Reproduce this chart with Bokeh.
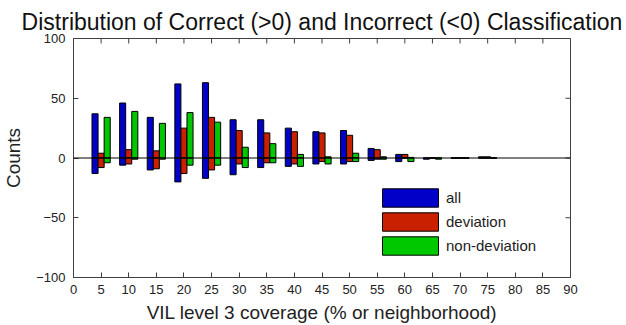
import math
from bokeh.plotting import figure
from bokeh.models import Range1d, Span, Legend, LegendItem, FixedTicker, ColumnDataSource
from bokeh.embed import file_html
from bokeh.resources import INLINE

# ---- data ----
coverage = [5, 10, 15, 20, 25, 30, 35, 40, 45, 50, 55, 60, 65, 70, 75]
all_pos = [37, 46, 34, 62, 63, 32, 32, 25, 22, 23, 8, 3, 0, 0, 1]
all_neg = [-13, -6, -10, -20, -17, -14, -8, -7, -5, -5, -2, -3, -1, 0, 0]
dev_pos = [4, 7, 6, 25, 34, 23, 21, 22, 21, 19, 7, 3, 0, 0, 1]
dev_neg = [-8, -5, -9, -13, -10, -5, -4, -5, -3, -3, -1, 0, 0, 0, 0]
non_pos = [34, 39, 29, 38, 30, 9, 12, 3, 1, 4, 1, 0.5, 0, 0, 0]
non_neg = [-4, -1, -1, -6, -6, -8, -4, -7, -5, -3, -1, -3, -1, 0, 0]
series_names = ["all", "deviation", "non-deviation"]
colors = ["#0000c8", "#c82000", "#00c800"]
x_ticks = list(range(0, 91, 5))
y_ticks = [-100, -50, 0, 50, 100]
x_min, x_max = 0, 90
y_min, y_max = -100, 100

FONT = "Liberation Sans"
AX = "#404040"
TXT = "#222222"

p = figure(width=626, height=325, output_backend="svg", toolbar_location=None,
           x_range=Range1d(x_min, x_max), y_range=Range1d(y_min, y_max),
           min_border_left=73, min_border_right=56, min_border_top=38, min_border_bottom=48)
p.title.text = "Distribution of Correct (>0) and Incorrect (<0) Classification"
p.title.text_font = FONT
p.title.text_font_size = "23px"
p.title.text_font_style = "normal"
p.title.text_color = "#111111"
p.title.align = "center"
p.title.offset = 0
p.title.standoff = 7
p.grid.visible = False
p.outline_line_color = AX
p.background_fill_color = "white"

bw = 1.1
offsets = [-1.1, 0.0, 1.1]
pos_lists = [all_pos, dev_pos, non_pos]
neg_lists = [all_neg, dev_neg, non_neg]
items = []
for name, col, off, pv, nv in zip(series_names, colors, offsets, pos_lists, neg_lists):
    xs = [c + off for c in coverage]
    src = ColumnDataSource(dict(x=xs, pos=pv, neg=nv))
    r1 = p.vbar(x="x", width=bw, bottom=0, top="pos", source=src,
                fill_color=col, line_color="black", line_width=1)
    p.vbar(x="x", width=bw, bottom="neg", top=0, source=src,
           fill_color=col, line_color="black", line_width=1)
    items.append(LegendItem(label=name, renderers=[r1]))

p.add_layout(Span(location=0, dimension="width", line_color="black", line_width=1))

# inward ticks on the top and right edges of the box (MATLAB style)
p.ray(x=x_ticks, y=[y_max] * len(x_ticks), length=5, length_units="screen",
      angle=-math.pi / 2, line_color=AX, line_width=1)
p.ray(x=[x_max] * len(y_ticks), y=y_ticks, length=5, length_units="screen",
      angle=math.pi, line_color=AX, line_width=1)

for ax in (p.xaxis[0], p.yaxis[0]):
    ax.axis_line_color = AX
    ax.major_tick_line_color = AX
    ax.major_tick_in = 5
    ax.major_tick_out = 0
    ax.minor_tick_line_color = None
    ax.major_label_text_font = FONT
    ax.major_label_text_font_size = "13px"
    ax.major_label_text_color = TXT
    ax.axis_label_text_font = FONT
    ax.axis_label_text_font_size = "19px"
    ax.axis_label_text_font_style = "normal"
    ax.axis_label_text_color = TXT

p.xaxis.ticker = FixedTicker(ticks=x_ticks)
p.yaxis.ticker = FixedTicker(ticks=y_ticks)
p.xaxis.axis_label = "VIL level 3 coverage (% or neighborhood)"
p.yaxis.axis_label = "Counts"
p.xaxis.major_label_standoff = 7
p.xaxis.axis_label_standoff = 5
p.yaxis.major_label_standoff = 8
p.yaxis.axis_label_standoff = 9

legend = Legend(items=items, location=(302, 20), orientation="vertical",
                glyph_width=70, glyph_height=23, label_standoff=1, spacing=1,
                padding=0, margin=0, border_line_alpha=0, background_fill_alpha=0,
                label_text_font=FONT, label_text_font_size="15px", label_text_color=TXT)
p.add_layout(legend, "center")

open("out.html", "w").write(file_html(p, INLINE))
